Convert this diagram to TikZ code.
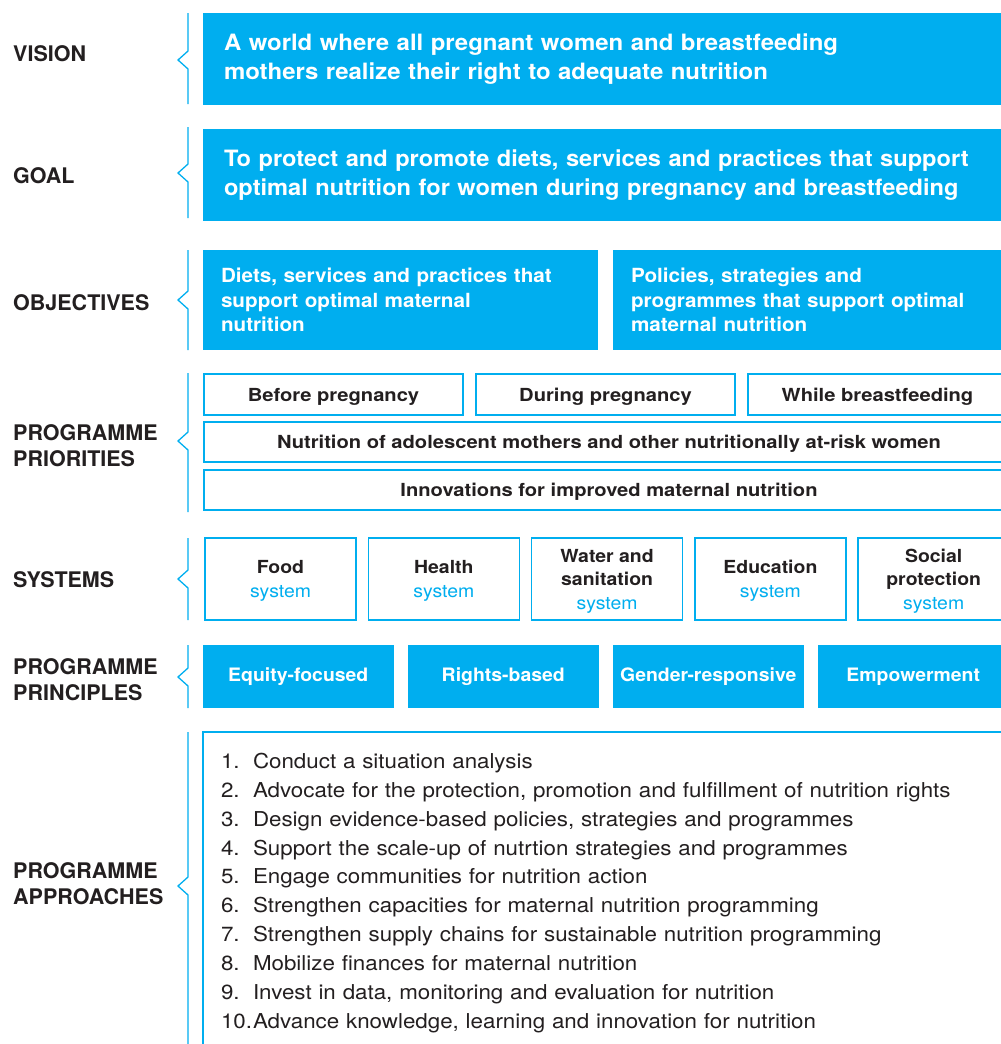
\documentclass[tikz,border=0pt]{standalone}
\usepackage{fontspec}
\setmainfont{TeX Gyre Heros}
\usepackage{tikz}
\usetikzlibrary{positioning}

\definecolor{unicefblue}{HTML}{00AEEF}
\definecolor{darktext}{HTML}{231F20}

\tikzset{
	section label/.style={anchor=west, align=left, inner sep=0pt, text=darktext, font=\fontsize{21.5}{26}\selectfont\bfseries},
	bracket line/.style={draw=unicefblue, line width=1.3pt},
	blue box/.style={fill=unicefblue, text=white, inner sep=0pt, outer sep=0pt},
	white box/.style={draw=unicefblue, line width=1.6pt, fill=white, text=darktext, inner sep=0pt, outer sep=0pt},
	priority box/.style={white box, text depth=0pt, minimum height=41pt, font=\fontsize{18}{22}\selectfont\bfseries\addfontfeatures{FakeStretch=1.12}},
	system box/.style={white box, text depth=0pt, minimum width=151pt, minimum height=82pt, align=center,
		font=\fontsize{18}{23.5}\selectfont\bfseries\addfontfeatures{FakeStretch=1.08}},
	principle box/.style={blue box, minimum width=190.5pt, minimum height=63pt,
		font=\fontsize{18.5}{22}\selectfont\bfseries\addfontfeatures{FakeStretch=1.05}},
}

\begin{document}
\begin{tikzpicture}[x=1pt, y=-1pt]
	\useasboundingbox (0,0) rectangle (1001,1044);
	\clip (0,0) rectangle (1001,1044);
	\def\brx{188}
	\def\tip{178}

	% left labels
	\node[section label] (vision label) at (13,54) {VISION};
	\node[section label] (goal label) at (13,176) {GOAL};
	\node[section label] (objectives label) at (13,303) {OBJECTIVES};
	\node[section label] (priorities label) at (13,446) {PROGRAMME\\PRIORITIES};
	\node[section label] (systems label) at (13,580) {SYSTEMS};
	\node[section label] (principles label) at (13,680) {PROGRAMME\\PRINCIPLES};
	\node[section label] (approaches label) at (13,884) {PROGRAMME\\APPROACHES};

	% brackets
	\draw[bracket line] (\brx,13) -- (\brx,51) -- (\tip,60) -- (\brx,69) -- (\brx,104);
	\draw[bracket line] (\brx,127) -- (\brx,164) -- (\tip,173) -- (\brx,182) -- (\brx,218);
	\draw[bracket line] (\brx,250) -- (\brx,291) -- (\tip,300) -- (\brx,309) -- (\brx,350);
	\draw[bracket line] (\brx,373) -- (\brx,432) -- (\tip,441) -- (\brx,450) -- (\brx,512);
	\draw[bracket line] (\brx,538) -- (\brx,570) -- (\tip,579) -- (\brx,588) -- (\brx,620);
	\draw[bracket line] (\brx,645) -- (\brx,668) -- (\tip,677) -- (\brx,686) -- (\brx,708);
	\draw[bracket line] (\brx,732) -- (\brx,877) -- (\tip,886) -- (\brx,895) -- (\brx,1044);

	% vision and goal
	\node[blue box, anchor=north west, inner xsep=21pt, text width=767pt, minimum height=92pt, align=left,
		font=\fontsize{22.5}{29}\selectfont\bfseries\addfontfeatures{FakeStretch=1.065}] (vision) at (203,13)
		{A world where all pregnant women and breastfeeding\\mothers realize their right to adequate nutrition};
	\node[blue box, anchor=north west, inner xsep=21pt, text width=767pt, minimum height=92pt, align=left,
		font=\fontsize{22.5}{29}\selectfont\bfseries\addfontfeatures{FakeStretch=1.05}] (goal) at (203,129)
		{To protect and promote diets, services and practices that support\\optimal nutrition for women during pregnancy and breastfeeding};

	% objectives
	\node[blue box, anchor=north west, inner xsep=18pt, text width=359pt, minimum height=100pt, align=left,
		font=\fontsize{19.5}{24.5}\selectfont\bfseries\addfontfeatures{FakeStretch=1.06}] (obj diets) at (203,250)
		{Diets, services and practices that\\support optimal maternal\\nutrition};
	\node[blue box, right=15pt of obj diets, inner xsep=18pt, text width=359pt, minimum height=100pt, align=left,
		font=\fontsize{19.5}{24.5}\selectfont\bfseries\addfontfeatures{FakeStretch=1.06}] (obj policies)
		{Policies, strategies and\\programmes that support optimal\\maternal nutrition};

	% programme priorities
	\node[priority box, anchor=north west, minimum width=259pt] (before) at (204,374) {Before pregnancy};
	\node[priority box, right=13pt of before, minimum width=259pt] (during) {During pregnancy};
	\node[priority box, right=13pt of during, minimum width=259pt] (breastfeeding) {While breastfeeding};
	\node[priority box, anchor=north west, minimum width=810pt, minimum height=40pt] (adolescent) at (204,422)
		{Nutrition of adolescent mothers and other nutritionally at-risk women};
	\node[priority box, anchor=north west, minimum width=810pt, minimum height=40pt] (innovations) at (204,470)
		{Innovations for improved maternal nutrition};

	% systems
	\node[system box, anchor=north west] (food) at (205,538) {Food\\{\mdseries\color{unicefblue}system}};
	\node[system box, right=12.3pt of food] (health) {Health\\{\mdseries\color{unicefblue}system}};
	\node[system box, right=12.3pt of health] (water) {Water and\\sanitation\\{\mdseries\color{unicefblue}system}};
	\node[system box, right=12.3pt of water] (education) {Education\\{\mdseries\color{unicefblue}system}};
	\node[system box, right=12.3pt of education] (social) {Social\\protection\\{\mdseries\color{unicefblue}system}};

	% programme principles
	\node[principle box, anchor=north west] (equity) at (203,645) {Equity-focused};
	\node[principle box, right=14.5pt of equity] (rights) {Rights-based};
	\node[principle box, right=14.5pt of rights] (gender) {Gender-responsive};
	\node[principle box, right=14.5pt of gender] (empowerment) {Empowerment};

	% programme approaches
	\node[white box, anchor=north west, inner xsep=18pt, text width=790pt, minimum height=322pt, align=left,
		font=\fontsize{20.5}{28.9}\selectfont\addfontfeatures{FakeStretch=1.09}] (approaches) at (203,732)
		{\makebox[32pt][l]{1.}Conduct a situation analysis\\
		\makebox[32pt][l]{2.}Advocate for the protection, promotion and fulfillment of nutrition rights\\
		\makebox[32pt][l]{3.}Design evidence-based policies, strategies and programmes\\
		\makebox[32pt][l]{4.}Support the scale-up of nutrtion strategies and programmes\\
		\makebox[32pt][l]{5.}Engage communities for nutrition action\\
		\makebox[32pt][l]{6.}Strengthen capacities for maternal nutrition programming\\
		\makebox[32pt][l]{7.}Strengthen supply chains for sustainable nutrition programming\\
		\makebox[32pt][l]{8.}Mobilize finances for maternal nutrition\\
		\makebox[32pt][l]{9.}Invest in data, monitoring and evaluation for nutrition\\
		\makebox[32pt][l]{10.}Advance knowledge, learning and innovation for nutrition};
\end{tikzpicture}
\end{document}
